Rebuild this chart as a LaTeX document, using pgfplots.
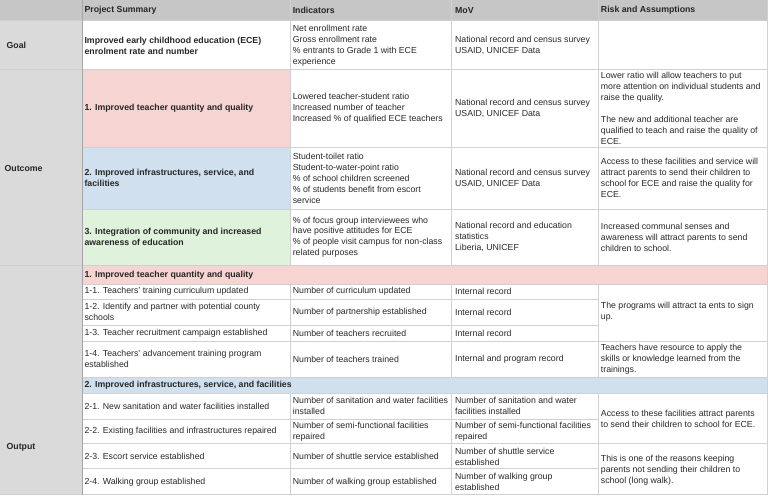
\documentclass[border=0pt]{standalone}
\usepackage{pgfplots}
\pgfplotsset{compat=1.18}
\usepackage{fontspec}
\setmainfont{Liberation Sans}
\definecolor{HdrGray}{RGB}{198,198,198}
\definecolor{SideGray}{RGB}{218,218,218}
\definecolor{RowPink}{RGB}{246,212,210}
\definecolor{RowBlue}{RGB}{208,224,238}
\definecolor{RowGreen}{RGB}{223,242,219}
\definecolor{GridGray}{RGB}{208,208,208}
\definecolor{TxtGray}{RGB}{40,40,40}
\newcommand\tf{\fontsize{8.8}{11}\selectfont}
% cell fill: x1,y1,x2,y2,colour (pixel coords, y down)
\newcommand{\cell}[5]{\addplot[fill=#5,draw=none] coordinates {(#1,#2)(#3,#2)(#3,#4)(#1,#4)};}
\newcommand{\txt}[3]{\node[anchor=west,align=left,inner sep=0pt,font=\tf,text=TxtGray] at (axis cs:#1,#2) {#3};}
\newcommand{\btxt}[3]{\node[anchor=west,align=left,inner sep=0pt,font=\tf\bfseries,text=black!85] at (axis cs:#1,#2) {#3};}
\newcommand{\hl}[3]{\draw[GridGray,line width=0.9pt] (axis cs:#1,#3) -- (axis cs:#2,#3);}
\newcommand{\vl}[3]{\draw[GridGray,line width=0.9pt] (axis cs:#1,#2) -- (axis cs:#1,#3);}
\begin{document}
\begin{tikzpicture}
\begin{axis}[
  width=768bp, height=498bp, scale only axis,
  xmin=0, xmax=768, ymin=0, ymax=498, y dir=reverse,
  hide axis, clip=false,
]
% backgrounds
\cell{0}{0}{768}{20}{HdrGray}
\cell{0}{20}{82}{495}{SideGray}
\cell{82}{69}{290}{147}{RowPink}
\cell{82}{147}{290}{209}{RowBlue}
\cell{82}{209}{290}{265}{RowGreen}
\cell{82}{265}{768}{284}{RowPink}
\cell{82}{377}{768}{393}{RowBlue}
% grid lines
\hl{0}{768}{20}\hl{0}{768}{69}\hl{0}{768}{265}\hl{0}{768}{495}
\hl{82}{768}{147}\hl{82}{768}{209}\hl{82}{768}{284}\hl{82}{768}{341}
\hl{82}{768}{377}\hl{82}{768}{393}\hl{82}{768}{444}
\hl{82}{599}{299}\hl{82}{599}{325}\hl{82}{599}{419}\hl{82}{599}{469}
\vl{290}{0}{265}\vl{290}{284}{377}\vl{290}{393}{495}
\vl{452}{0}{265}\vl{452}{284}{377}\vl{452}{393}{495}
\vl{599}{0}{265}\vl{599}{284}{377}\vl{599}{393}{495}
\vl{767.5}{0}{495}
\draw[black!35,line width=0.9pt] (axis cs:82,0) -- (axis cs:82,495);
% header
\btxt{84}{10}{Project Summary}
\btxt{292.5}{10}{Indicators}
\btxt{455}{10}{MoV}
\btxt{601}{10}{Risk and Assumptions}
% first column
\btxt{6}{45}{Goal}
\btxt{4}{168}{Outcome}
\btxt{6}{447}{Output}
% goal
\btxt{84}{45}{Improved early childhood education (ECE)\\enrolment rate and number}
\txt{292.5}{45}{Net enrollment rate\\Gross enrollment rate\\\% entrants to Grade 1 with ECE\\experience}
\txt{455}{45}{National record and census survey\\USAID, UNICEF Data}
% outcome 1
\btxt{84}{108}{1. Improved teacher quantity and quality}
\txt{292.5}{108}{Lowered teacher-student ratio\\Increased number of teacher\\Increased \% of qualified ECE teachers}
\txt{455}{108}{National record and census survey\\USAID, UNICEF Data}
\txt{601}{108}{Lower ratio will allow teachers to put\\more attention on individual students and\\raise the quality.\\[11pt]The new and additional teacher are\\qualified to teach and raise the quality of\\ECE.}
% outcome 2
\btxt{84}{178}{2. Improved infrastructures, service, and\\facilities}
\txt{292.5}{178}{Student-toilet ratio\\Student-to-water-point ratio\\\% of school children screened\\\% of students benefit from escort\\service}
\txt{455}{178}{National record and census survey\\USAID, UNICEF Data}
\txt{601}{178}{Access to these facilities and service will\\attract parents to send their children to\\school for ECE and raise the quality for\\ECE.}
% outcome 3
\btxt{84}{237}{3. Integration of community and increased\\awareness of education}
\txt{292.5}{237}{\% of focus group interviewees who\\have positive attitudes for ECE\\\% of people visit campus for non-class\\related purposes}
\txt{455}{237}{National record and education\\statistics\\Liberia, UNICEF}
\txt{601}{237}{Increased communal senses and\\awareness will attract parents to send\\children to school.}
% output 1
\btxt{84}{275}{1. Improved teacher quantity and quality}
\txt{84}{291.5}{1-1. Teachers’ training curriculum updated}
\txt{292.5}{291.5}{Number of curriculum updated}
\txt{455}{291.5}{Internal record}
\txt{84}{312}{1-2. Identify and partner with potential county\\schools}
\txt{292.5}{312}{Number of partnership established}
\txt{455}{312}{Internal record}
\txt{84}{333}{1-3. Teacher recruitment campaign established}
\txt{292.5}{333}{Number of teachers recruited}
\txt{455}{333}{Internal record}
\txt{601}{312}{The programs will attract ta ents to sign\\up.}
\txt{84}{359}{1-4. Teachers’ advancement training program\\established}
\txt{292.5}{359}{Number of teachers trained}
\txt{455}{359}{Internal and program record}
\txt{601}{359}{Teachers have resource to apply the\\skills or knowledge learned from the\\trainings.}
% output 2
\btxt{84}{385}{2. Improved infrastructures, service, and facilities}
\txt{84}{406}{2-1. New sanitation and water facilities installed}
\txt{292.5}{406}{Number of sanitation and water facilities\\installed}
\txt{455}{406}{Number of sanitation and water\\facilities installed}
\txt{84}{431.5}{2-2. Existing facilities and infrastructures repaired}
\txt{292.5}{431.5}{Number of semi-functional facilities\\repaired}
\txt{455}{431.5}{Number of semi-functional facilities\\repaired}
\txt{601}{419}{Access to these facilities attract parents\\to send their children to school for ECE.}
\txt{84}{456.5}{2-3. Escort service established}
\txt{292.5}{456.5}{Number of shuttle service established}
\txt{455}{456.5}{Number of shuttle service\\established}
\txt{84}{482}{2-4. Walking group established}
\txt{292.5}{482}{Number of walking group established}
\txt{455}{482}{Number of walking group\\established}
\txt{601}{470}{This is one of the reasons keeping\\parents not sending their children to\\school (long walk).}
\end{axis}
\end{tikzpicture}
\end{document}
